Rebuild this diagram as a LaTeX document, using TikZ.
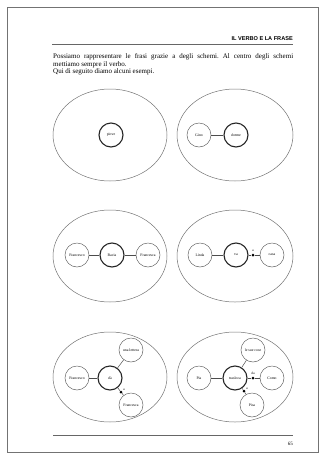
\documentclass[tikz,border=0pt]{standalone}
\usepackage{fontspec}
\setmainfont{Liberation Serif}
\newfontfamily\titolofont{Liberation Sans}
\usetikzlibrary{positioning}

\begin{document}
\begin{tikzpicture}[x=1pt, y=-1pt,
    verbo/.style={circle, draw=black!85, line width=1.1pt, minimum size=24pt, inner sep=0pt, font=\fontsize{3.8}{4.2}\selectfont},
    compl/.style={circle, draw=black!60, line width=0.5pt, minimum size=24pt, inner sep=0pt, align=center, font=\fontsize{3.8}{4.2}\selectfont},
    prep/.style={circle, fill=black, inner sep=0pt, minimum size=3pt},
    prepnome/.style={font=\fontsize{3.5}{4}\selectfont, inner sep=0.8pt},
    legame/.style={draw=black!70, line width=0.5pt},
    bolla/.style={draw=black!55, line width=0.5pt}]
    \useasboundingbox (0,0) rectangle (322,456);

    % 1. Bordo della pagina, intestazione e testo
    \draw[black!55, line width=0.6pt] (7,7) rectangle (318,452);
    \node[anchor=base east, inner sep=0pt, font=\titolofont\bfseries\fontsize{5.6}{6}\selectfont] (titolo) at (293,40) {IL VERBO E LA FRASE};
    \draw[black!60, line width=0.5pt] (52,44) -- (293,44);
    \node[anchor=north west, inner sep=0pt, text width=240pt, align=justify, font=\fontsize{7}{7.4}\selectfont\frenchspacing] (testo) at (53,53.5)
        {Possiamo rappresentare le frasi grazie a degli schemi. Al centro degli schemi\linebreak mettiamo sempre il verbo.\\Qui di seguito diamo alcuni esempi.};

    % 2. Le sei bolle (ellissi)
    \draw[bolla] (110,135) ellipse (57 and 46);
    \draw[bolla] (235,135) ellipse (58 and 46);
    \draw[bolla] (110,256) ellipse (57 and 46);
    \draw[bolla] (235,256) ellipse (58 and 46);
    \draw[bolla] (110,377) ellipse (57 and 45);
    \draw[bolla] (235,377) ellipse (58 and 45);

    % 3. Prima riga: piove / Gino dorme
    \node[verbo] (piove) at (111,135) {piove};

    \node[compl] (gino) at (199,135) {Gino};
    \node[verbo] (dorme) at (236,135) {dorme};
    \draw[legame] (gino) -- (dorme);

    % 4. Seconda riga: Francesco bacia Francesca / Linda va a casa
    \node[compl] (francesco) at (77,255) {Francesco};
    \node[verbo] (bacia) at (112,255) {Bacia};
    \node[compl] (francesca) at (148,255) {Francesca};
    \draw[legame] (francesco) -- (bacia) -- (francesca);

    \node[compl] (linda) at (200,255) {Linda};
    \node[verbo] (va) at (236,255) {va};
    \node[compl] (casa) at (272,255) {casa};
    \node[prep] (pa) at (253,255) {};
    \node[prepnome, above=0.3pt of pa] (pal) {a};
    \draw[legame] (linda) -- (va) -- (pa) -- (casa);

    % 5. Terza riga: Francesco dà una lettera a Francesca
    \node[compl] (francesco2) at (77,378) {Francesco};
    \node[verbo] (da) at (110,378) {dà};
    \node[compl] (lettera) at (131,350) {una lettera};
    \node[compl] (francesca2) at (131,405) {Francesca};
    \node[prep] (pb) at (121,392) {};
    \node[prepnome, above right=-0.5pt and 0pt of pb] (pbl) {a};
    \draw[legame] (francesco2) -- (da);
    \draw[legame] (da) -- (lettera);
    \draw[legame] (da) -- (pb) -- (francesca2);

    % 6. Terza riga: Pia trasloca le sue cose da Como a Pisa
    \node[compl] (pia) at (199,378) {Pia};
    \node[verbo] (trasloca) at (235,378) {trasloca};
    \node[compl] (cose) at (253,350) {le sue cose};
    \node[compl] (como) at (272,378) {Como};
    \node[compl] (pisa) at (252,405) {Pisa};
    \node[prep] (pc) at (253,378) {};
    \node[prepnome, above=0.3pt of pc] (pcl) {da};
    \node[prep] (pd) at (244,391) {};
    \node[prepnome, above right=-0.5pt and 0pt of pd] (pdl) {a};
    \draw[legame] (pia) -- (trasloca);
    \draw[legame] (trasloca) -- (cose);
    \draw[legame] (trasloca) -- (pc) -- (como);
    \draw[legame] (trasloca) -- (pd) -- (pisa);

    % 7. Piede di pagina
    \draw[black!60, line width=1pt] (53,435) -- (293,435);
    \node[anchor=base east, inner sep=0pt, font=\fontsize{5}{6}\selectfont] (pagina) at (293,445) {65};
\end{tikzpicture}
\end{document}
